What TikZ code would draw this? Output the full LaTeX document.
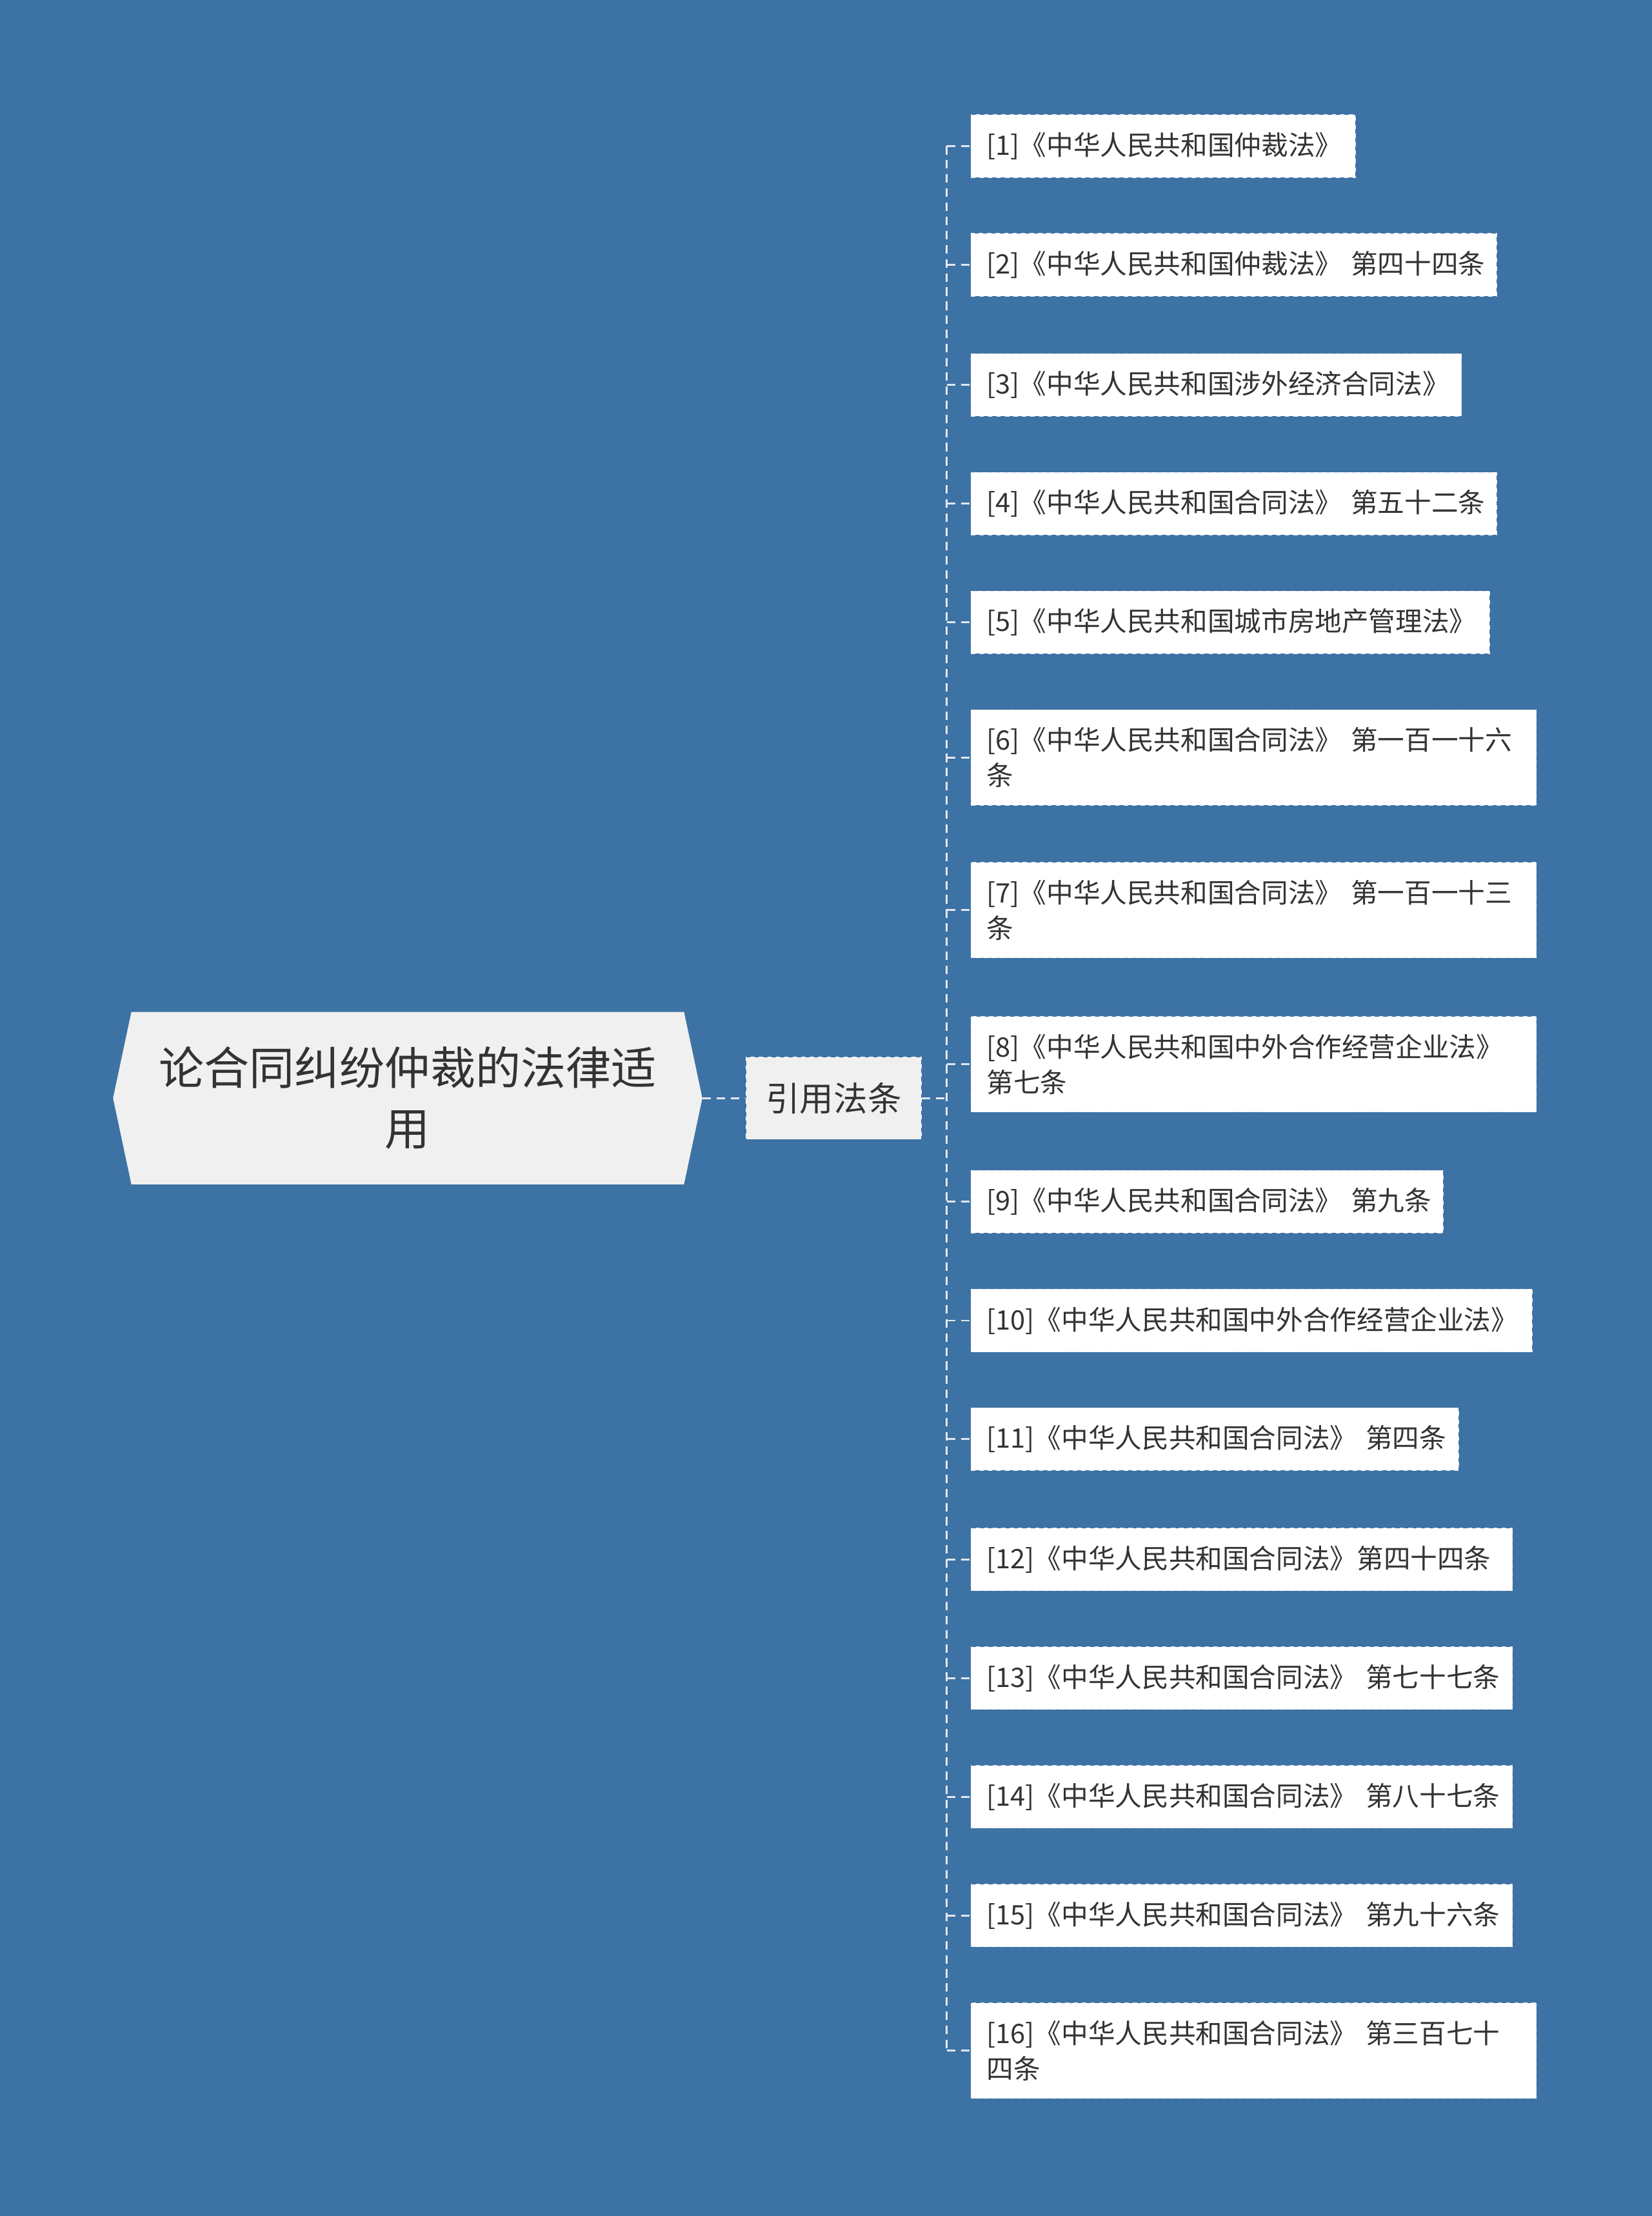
\documentclass[tikz,border=0pt]{standalone}
\usepackage{fontspec}
\setmainfont{Noto Sans CJK SC}
\usetikzlibrary{shapes.symbols}
\definecolor{bgblue}{HTML}{3D72A4}
\definecolor{boxgrey}{HTML}{F0F0F0}
\definecolor{ink}{HTML}{333333}
\definecolor{wire}{HTML}{E3E8EF}
\begin{document}
\begin{tikzpicture}[x=1pt,y=-1pt,
    link/.style={draw=wire,line width=1.3pt,dash pattern=on 6pt off 4pt},
    rootbox/.style={signal,signal to=west and east,signal pointer angle=156,fill=boxgrey,text=ink,align=center,minimum width=417pt,minimum height=122pt,inner sep=0pt,font=\fontsize{32}{43}\selectfont},
    midbox/.style={fill=boxgrey,draw=white,dashed,text=ink,minimum width=124pt,minimum height=58pt,inner sep=0pt,font=\fontsize{24}{30}\selectfont},
    leafbox/.style={fill=white,draw=wire,dashed,text=ink,align=left,anchor=north west,inner xsep=11pt,inner ysep=12.5pt,minimum height=44pt,font=\fontsize{19}{25}\selectfont}]
    \fill[bgblue] (0,0) rectangle (1169,1568);
    \useasboundingbox (0,0) rectangle (1169,1568);
    \node[rootbox] (root) at (288.5,777) {论合同纠纷仲裁的法律适\\用};
    \node[midbox] (cite) at (590,777) {引用法条};
    \coordinate (spine) at (670,777);
    % leaves: number/top/text width/text
    \foreach \i/\top/\w/\txt in {
        1/81/250/{[1]《中华人民共和国仲裁法》},
        2/165/350/{[2]《中华人民共和国仲裁法》~第四十四条},
        3/250/325/{[3]《中华人民共和国涉外经济合同法》},
        4/334/350/{[4]《中华人民共和国合同法》~第五十二条},
        5/418/345/{[5]《中华人民共和国城市房地产管理法》},
        6/502/378/{[6]《中华人民共和国合同法》~第一百一十六\\条},
        7/610/378/{[7]《中华人民共和国合同法》~第一百一十三\\条},
        8/719/378/{[8]《中华人民共和国中外合作经营企业法》\\第七条},
        9/828/312/{[9]《中华人民共和国合同法》~第九条},
        10/912/375/{[10]《中华人民共和国中外合作经营企业法》},
        11/996/323/{[11]《中华人民共和国合同法》~第四条},
        12/1081/361/{[12]《中华人民共和国合同法》第四十四条},
        13/1165/361/{[13]《中华人民共和国合同法》~第七十七条},
        14/1249/361/{[14]《中华人民共和国合同法》~第八十七条},
        15/1333/361/{[15]《中华人民共和国合同法》~第九十六条},
        16/1417/378/{[16]《中华人民共和国合同法》~第三百七十\\四条}}
        \node[leafbox,text width=\w pt] (l\i) at (687,\top) {\txt};
    \draw[link] (root.east) -- (cite.west);
    \draw[link] (cite.east) -- (spine);
    \draw[link] (spine |- l1.west) -- (spine |- l16.west);
    \foreach \i in {1,...,16}
        \draw[link] (spine |- l\i.west) -- (l\i.west);
\end{tikzpicture}
\end{document}
